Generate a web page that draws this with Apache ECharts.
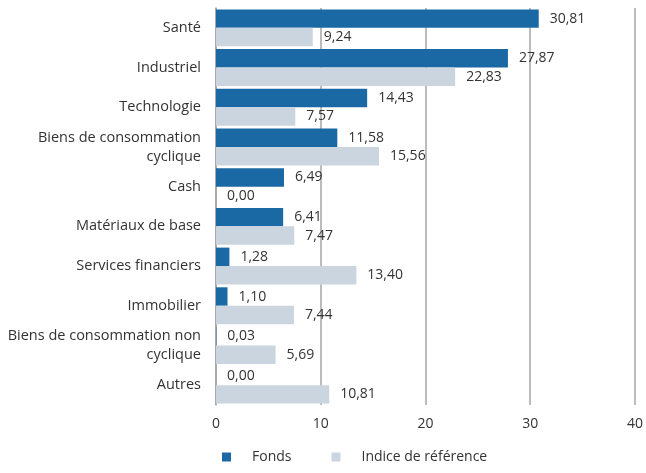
<!DOCTYPE html>
<html><head><meta charset="utf-8">
<script src="https://cdn.jsdelivr.net/npm/echarts@6/dist/echarts.min.js"></script>
<style>html,body{margin:0;padding:0;background:#fff}#c{width:646px;height:473px}</style>
</head><body><div id="c"></div>
<script>
const categories = ["Santé","Industriel","Technologie","Biens de consommation\ncyclique","Cash","Matériaux de base","Services financiers","Immobilier","Biens de consommation non\ncyclique","Autres"];
const fonds = [30.81,27.87,14.43,11.58,6.49,6.41,1.28,1.10,0.03,0.00];
const indice = [9.24,22.83,7.57,15.56,0.00,7.47,13.40,7.44,5.69,10.81];
const seriesNames = ["Fonds","Indice de référence"];
const FONT = "'Open Sans', Lato, sans-serif";
const fmt = p => p.value.toFixed(2).replace('.', ',');
const chart = echarts.init(document.getElementById('c'), null, {renderer:'canvas'});
chart.setOption({
  animation:false,
  textStyle:{fontFamily:FONT},
  grid:{left:216,right:10,top:8,bottom:68,containLabel:false},
  legend:{bottom:4,left:217,itemWidth:9,itemHeight:9,itemGap:40,icon:'rect',
    textStyle:{fontSize:14,color:'#333',fontFamily:FONT,padding:[0,0,0,16]},data:seriesNames},
  xAxis:{type:'value',min:0,max:40,interval:10,
    axisLine:{show:false},axisTick:{show:false},
    axisLabel:{fontSize:14,color:'#333',margin:12,fontFamily:FONT},
    splitLine:{show:true,lineStyle:{color:'#a6a6a6',width:1.5}}},
  yAxis:{type:'category',inverse:true,data:categories,
    axisLine:{show:true,lineStyle:{color:'#a6a6a6',width:1.5}},axisTick:{show:false},
    axisLabel:{fontSize:14.5,color:'#333',margin:15,lineHeight:19,fontFamily:FONT,align:'right'}},
  series:[
    {name:seriesNames[0],type:'bar',data:fonds,barGap:'0%',barCategoryGap:'7%',
      itemStyle:{color:'#1b69a4'},
      label:{show:true,position:'right',distance:11,formatter:fmt,fontSize:14,color:'#333',fontFamily:FONT}},
    {name:seriesNames[1],type:'bar',data:indice,
      itemStyle:{color:'#cbd5df'},
      label:{show:true,position:'right',distance:11,formatter:fmt,fontSize:14,color:'#333',fontFamily:FONT}}
  ]
});
</script></body></html>
